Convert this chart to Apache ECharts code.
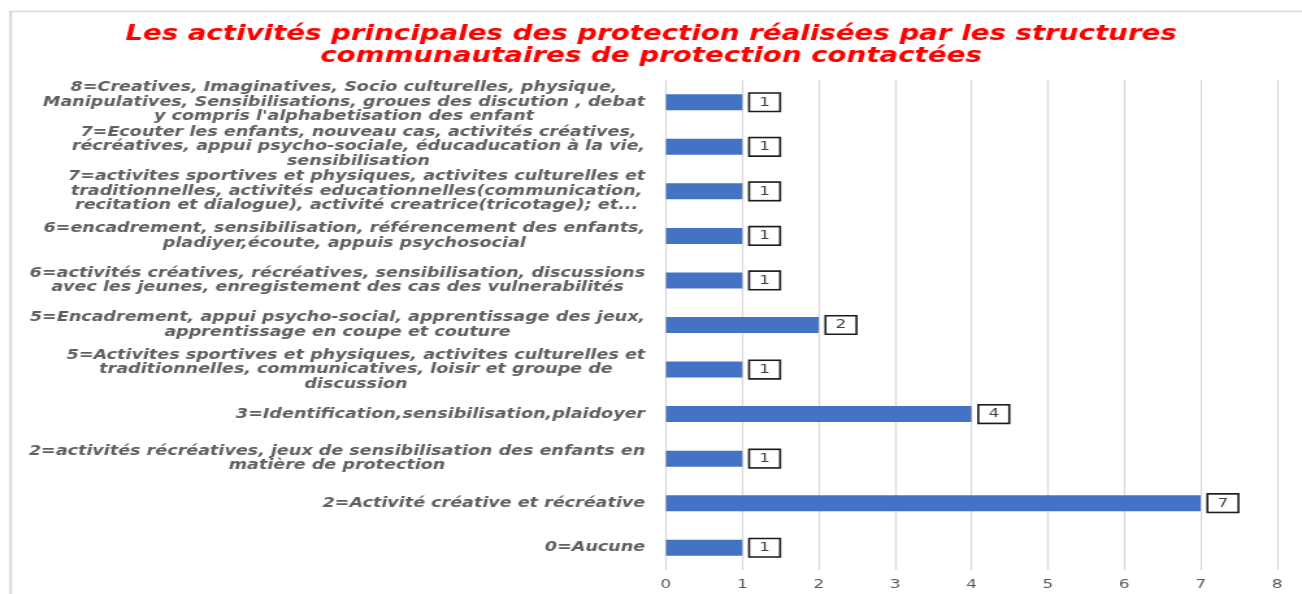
<!DOCTYPE html>
<html>
<head>
<meta charset="utf-8">
<title>Activités principales des protection</title>
<script src="https://cdn.jsdelivr.net/npm/echarts@6/dist/echarts.min.js"></script>
<style>
  html, body { margin: 0; padding: 0; background: #fff; overflow: hidden; }
  /* l'image d'origine est étirée horizontalement : on dessine plus étroit puis on étire */
  #chart {
    width: 1002px;
    height: 594px;
    transform: scaleX(1.2994);
    transform-origin: 0 0;
  }
</style>
</head>
<body>
<div id="chart"></div>
<script>
// libellés des catégories (de haut en bas)
const categories = [
  "8=Creatives, Imaginatives, Socio culturelles, physique,\nManipulatives, Sensibilisations, groues des discution , debat\ny compris l'alphabetisation des enfant",
  "7=Ecouter les enfants, nouveau cas, activités créatives,\nrécréatives, appui psycho-sociale, éducaducation à la vie,\nsensibilisation",
  "7=activites sportives et physiques, activites culturelles et\ntraditionnelles, activités educationnelles(communication,\nrecitation et dialogue), activité creatrice(tricotage); et...",
  "6=encadrement, sensibilisation, référencement des enfants,\npladiyer,écoute, appuis psychosocial",
  "6=activités créatives, récréatives, sensibilisation, discussions\navec les jeunes, enregistement des cas des vulnerabilités",
  "5=Encadrement, appui psycho-social, apprentissage des jeux,\napprentissage en coupe et couture",
  "5=Activites sportives et physiques, activites culturelles et\ntraditionnelles, communicatives, loisir et groupe de\ndiscussion",
  "3=Identification,sensibilisation,plaidoyer",
  "2=activités récréatives, jeux de sensibilisation des enfants en\nmatière de protection",
  "2=Activité créative et récréative",
  "0=Aucune"
];

// nombre de structures
const values = [1, 1, 1, 1, 1, 2, 1, 4, 1, 7, 1];

// graduations de l'axe horizontal
const xMin = 0;
const xMax = 8;
const xStep = 1;

const titleText = "Les activités principales des protection réalisées par les structures\ncommunautaires de protection contactées";

const labelFont = {
  fontFamily: 'DejaVu Sans',
  fontSize: 13.5,
  fontStyle: 'italic',
  fontWeight: 'bold',
  lineHeight: 14.5,
  color: '#5f5f5f'
};

const chart = echarts.init(document.getElementById('chart'));

const option = {
  animation: false,
  backgroundColor: '#ffffff',
  title: {
    text: titleText,
    left: 'center',
    top: 23,
    padding: 0,
    textStyle: {
      fontFamily: 'DejaVu Sans',
      fontSize: 21.3,
      lineHeight: 22,
      fontStyle: 'italic',
      fontWeight: 'bold',
      color: '#ff0000'
    }
  },
  // cadre gris autour de l'image
  graphic: [
    {
      type: 'line',
      shape: { x1: 7, y1: 11.5, x2: 1002, y2: 11.5 },
      style: { stroke: '#d9d9d9', lineWidth: 1.5 }
    },
    {
      type: 'line',
      shape: { x1: 8.1, y1: 11, x2: 8.1, y2: 594 },
      style: { stroke: '#dcdcdc', lineWidth: 2.3 }
    }
  ],
  grid: {
    left: 512.5,
    right: 19.2,
    top: 80,
    bottom: 24,
    containLabel: false,
    outerBoundsMode: 'none'
  },
  xAxis: {
    type: 'value',
    min: xMin,
    max: xMax,
    interval: xStep,
    axisLine: { show: false },
    axisTick: { show: false },
    splitLine: {
      show: true,
      lineStyle: { color: '#d9d9d9', width: 1.2 }
    },
    axisLabel: {
      margin: 8,
      fontFamily: 'DejaVu Sans',
      fontSize: 13,
      color: '#595959'
    }
  },
  yAxis: {
    type: 'category',
    inverse: true,
    data: categories,
    axisLine: { show: false },
    axisTick: { show: false },
    axisLabel: Object.assign({
      interval: 0,
      margin: 16,
      // chaque ligne centrée dans le bloc, bloc aligné à droite
      formatter: (value) => value.split('\n').map(l => '{c|' + l + '}').join('\n'),
      rich: {
        c: Object.assign({ align: 'center' }, labelFont)
      }
    }, labelFont)
  },
  series: [
    {
      type: 'bar',
      data: values,
      barWidth: 16,
      itemStyle: { color: '#4472c4' },
      label: {
        show: true,
        position: 'right',
        distance: 6,
        fontFamily: 'DejaVu Sans',
        fontSize: 13,
        color: '#404040',
        backgroundColor: '#ffffff',
        borderColor: '#1a1a1a',
        borderWidth: 1.6,
        padding: [2, 7, 1, 7],
        lineHeight: 14
      }
    }
  ]
};

chart.setOption(option);
</script>
</body>
</html>
